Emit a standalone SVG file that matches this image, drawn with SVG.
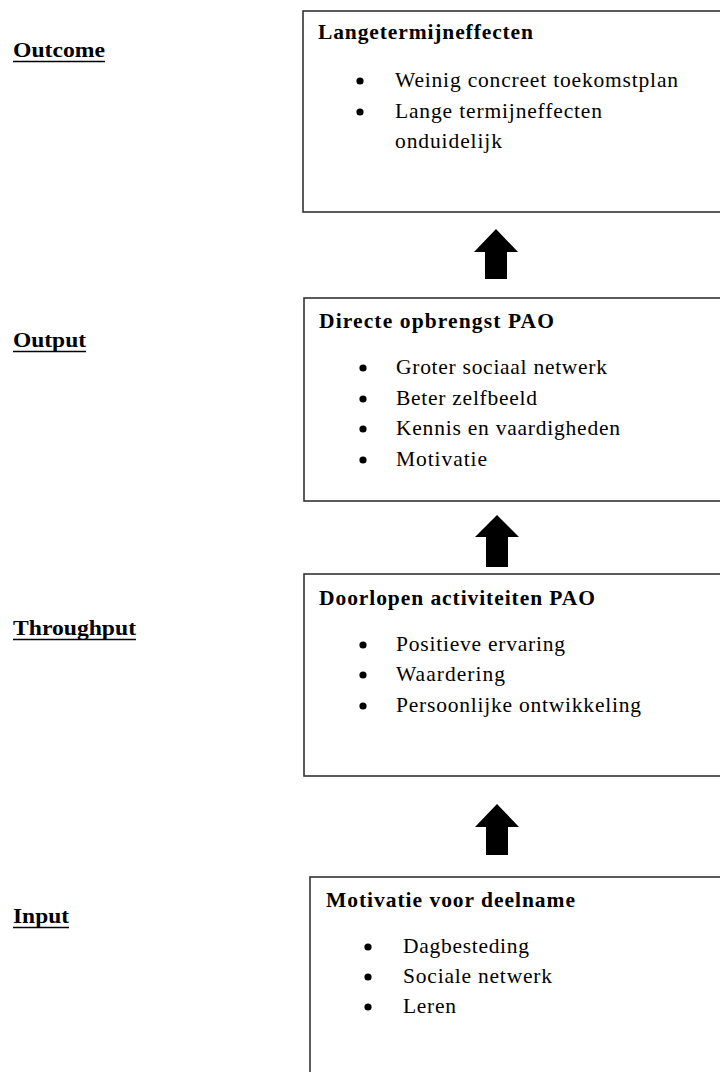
<svg xmlns="http://www.w3.org/2000/svg" width="720" height="1072" viewBox="0 0 720 1072">
<style>
.box{fill:#fff;stroke:#333;stroke-width:1.6}
.lbl{font-family:"Liberation Serif","Times New Roman",serif;font-size:21px;font-weight:bold;fill:#000}
.ttl{font-family:"Liberation Serif","Times New Roman",serif;font-size:21.5px;font-weight:bold;fill:#000}
.itm{font-family:"Liberation Serif","Times New Roman",serif;font-size:21.5px;fill:#000}
.ul{stroke:#000;stroke-width:1.6}
.bul{fill:#000}
.arr{fill:#000}
</style>
<rect width="720" height="1072" fill="#fff"/>
<g id="labels">
  <text class="lbl" x="13" y="57" textLength="92" lengthAdjust="spacingAndGlyphs">Outcome</text>
  <line class="ul" x1="13" y1="61.5" x2="105" y2="61.5"/>
  <text class="lbl" x="13" y="347" textLength="73" lengthAdjust="spacingAndGlyphs">Output</text>
  <line class="ul" x1="13" y1="351.5" x2="86" y2="351.5"/>
  <text class="lbl" x="13" y="635" textLength="123" lengthAdjust="spacingAndGlyphs">Throughput</text>
  <line class="ul" x1="13" y1="639.5" x2="136" y2="639.5"/>
  <text class="lbl" x="13" y="923" textLength="56" lengthAdjust="spacingAndGlyphs">Input</text>
  <line class="ul" x1="13" y1="927.5" x2="69" y2="927.5"/>
</g>
<g id="node-outcome">
  <rect class="box" x="303" y="11" width="440" height="201"/>
  <text class="ttl" x="318" y="39" textLength="215" lengthAdjust="spacing">Langetermijneffecten</text>
  <circle class="bul" cx="360" cy="81" r="3.6"/>
  <text class="itm" x="395" y="87" textLength="283" lengthAdjust="spacing">Weinig concreet toekomstplan</text>
  <circle class="bul" cx="360" cy="112" r="3.6"/>
  <text class="itm" x="395" y="118" textLength="207" lengthAdjust="spacing">Lange termijneffecten</text>
  <text class="itm" x="395" y="148" textLength="107" lengthAdjust="spacing">onduidelijk</text>
</g>
<g id="node-output">
  <rect class="box" x="304" y="298" width="440" height="203"/>
  <text class="ttl" x="319" y="328" textLength="235" lengthAdjust="spacing">Directe opbrengst PAO</text>
  <circle class="bul" cx="363" cy="368" r="3.6"/>
  <text class="itm" x="396" y="374" textLength="211" lengthAdjust="spacing">Groter sociaal netwerk</text>
  <circle class="bul" cx="363" cy="399" r="3.6"/>
  <text class="itm" x="396" y="405" textLength="141" lengthAdjust="spacing">Beter zelfbeeld</text>
  <circle class="bul" cx="363" cy="429" r="3.6"/>
  <text class="itm" x="396" y="435" textLength="224" lengthAdjust="spacing">Kennis en vaardigheden</text>
  <circle class="bul" cx="363" cy="460" r="3.6"/>
  <text class="itm" x="396" y="466" textLength="91" lengthAdjust="spacing">Motivatie</text>
</g>
<g id="node-throughput">
  <rect class="box" x="304" y="574" width="440" height="202"/>
  <text class="ttl" x="319" y="605" textLength="276" lengthAdjust="spacing">Doorlopen activiteiten PAO</text>
  <circle class="bul" cx="363" cy="645" r="3.6"/>
  <text class="itm" x="396" y="651" textLength="169" lengthAdjust="spacing">Positieve ervaring</text>
  <circle class="bul" cx="363" cy="675" r="3.6"/>
  <text class="itm" x="396" y="681" textLength="109" lengthAdjust="spacing">Waardering</text>
  <circle class="bul" cx="363" cy="706" r="3.6"/>
  <text class="itm" x="396" y="712" textLength="245" lengthAdjust="spacing">Persoonlijke ontwikkeling</text>
</g>
<g id="node-input">
  <rect class="box" x="310" y="877" width="440" height="220"/>
  <text class="ttl" x="326" y="907" textLength="249" lengthAdjust="spacing">Motivatie voor deelname</text>
  <circle class="bul" cx="368" cy="947" r="3.6"/>
  <text class="itm" x="403" y="953" textLength="126" lengthAdjust="spacing">Dagbesteding</text>
  <circle class="bul" cx="368" cy="977" r="3.6"/>
  <text class="itm" x="403" y="983" textLength="149" lengthAdjust="spacing">Sociale netwerk</text>
  <circle class="bul" cx="368" cy="1007" r="3.6"/>
  <text class="itm" x="403" y="1013" textLength="53" lengthAdjust="spacing">Leren</text>
</g>
<g id="connectors">
  <path class="arr" d="M496,229 L518,252 L507,252 L507,279 L485,279 L485,252 L474,252 Z"/>
  <path class="arr" d="M497,515 L519,537 L508,537 L508,567 L486,567 L486,537 L475,537 Z"/>
  <path class="arr" d="M497,804 L519,827 L508,827 L508,855 L486,855 L486,827 L475,827 Z"/>
</g>
</svg>
